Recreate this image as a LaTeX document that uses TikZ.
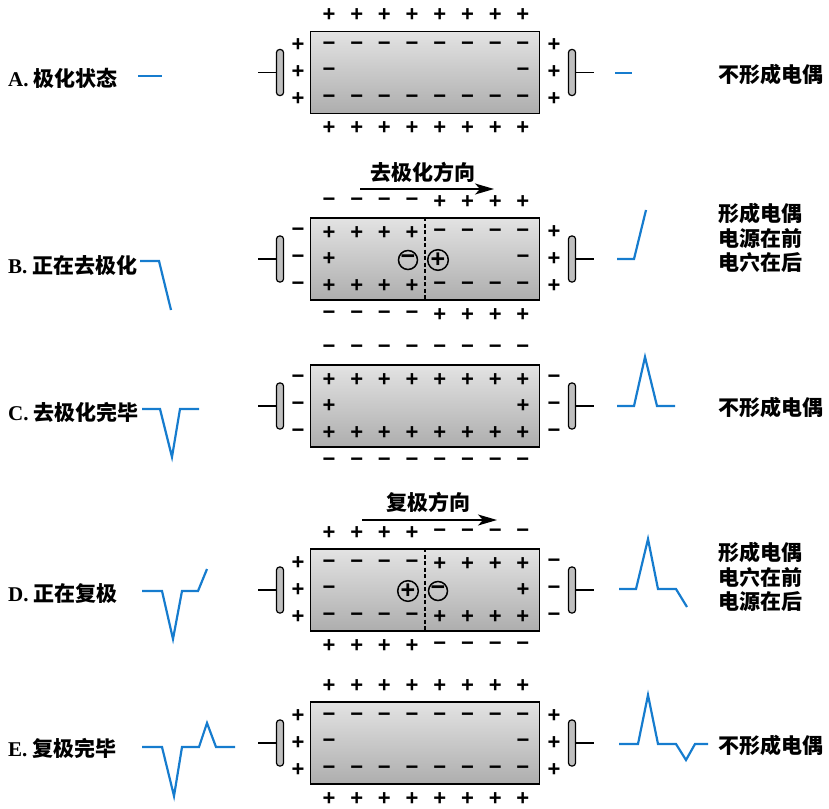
\documentclass[tikz,border=0pt]{standalone}
\usepackage{fontspec}
\setmainfont{Liberation Serif}
\newfontfamily\cjk{Noto Sans CJK SC}
\newfontfamily\signfont{Liberation Sans}
\usetikzlibrary{arrows.meta}

\definecolor{ecgblue}{RGB}{22,124,206}

\tikzset{
  fiber/.style={draw, line width=1.8pt, minimum width=229pt, minimum height=82pt, inner sep=0,
    top color=black!11, middle color=black!5, bottom color=black!32},
  sign/.style={font=\signfont\bfseries\fontsize{22}{22}\selectfont, inner sep=0},
  csign/.style={circle, draw, line width=1.5pt, minimum size=19pt, inner sep=0,
    font=\signfont\bfseries\fontsize{25}{25}\selectfont},
  electrode/.style={draw, line width=1.2pt, rounded corners=3pt, fill=black!25,
    minimum width=7pt, minimum height=46pt, inner sep=0},
  wire/.style={line width=1.6pt},
  trace/.style={ecgblue, line width=2.2pt, line join=miter},
  lbl/.style={font=\fontsize{21}{24.5}\selectfont\bfseries, inner sep=0},
}

% one fibre: name, centre y, outer row, inner row, middle left/right, left side, right side
\newcommand{\fiber}[8]{%
  \node[fiber] (#1) at (425,#2) {};
  \foreach \s [count=\i] in {#3}{
    \node[sign] (#1-t\i) at ({301.3+27.7*\i},#2-57) {\s};
    \node[sign] (#1-b\i) at ({301.3+27.7*\i},#2+56) {\s};
  }
  \foreach \s [count=\i] in {#4}{
    \node[sign] (#1-u\i) at ({301.3+27.7*\i},#2-26) {\s};
    \node[sign] (#1-d\i) at ({301.3+27.7*\i},#2+27) {\s};
  }
  \node[sign] (#1-ml) at (329,#2) {#5};
  \node[sign] (#1-mr) at (523,#2) {#6};
  \foreach \j [count=\k] in {-27,0,27}{
    \node[sign] (#1-l\k) at (298,#2+\j) {#7};
    \node[sign] (#1-r\k) at (554,#2+\j) {#8};
  }
  % electrodes
  \node[electrode] (#1-le) at (280,#2) {};
  \node[electrode] (#1-re) at (572,#2) {};
  \coordinate (#1-lw) at (258,#2);
  \coordinate (#1-rw) at (594,#2);
  \draw[wire] (#1-lw) -- (#1-le);
  \draw[wire] (#1-re) -- (#1-rw);
}

\begin{document}
\begin{tikzpicture}[x=1pt,y=-1pt]
\useasboundingbox (0,0) rectangle (829,808);

\fiber{a}{72.5}{+,+,+,+,+,+,+,+}{−,−,−,−,−,−,−,−}{−}{−}{+}{+}
\fiber{b}{259}{−,−,−,−,+,+,+,+}{+,+,+,+,−,−,−,−}{+}{−}{−}{+}
\fiber{c}{406}{−,−,−,−,−,−,−,−}{+,+,+,+,+,+,+,+}{+}{+}{−}{−}
\fiber{d}{590}{+,+,+,+,−,−,−,−}{−,−,−,−,+,+,+,+}{−}{+}{+}{−}
\fiber{e}{743}{+,+,+,+,+,+,+,+}{−,−,−,−,−,−,−,−}{−}{−}{+}{+}

% wave fronts
\draw[line width=1.4pt, dash pattern=on 4pt off 2.5pt] (b.north) -- (b.south);
\draw[line width=1.4pt, dash pattern=on 4pt off 2.5pt] (d.north) -- (d.south);
\node[csign] (b-neg) at (408,260) {−};
\node[csign] (b-pos) at (438,260) {+};
\node[csign] (d-pos) at (408,591) {+};
\node[csign] (d-neg) at (438,591) {−};

% direction arrows
\node[lbl] (b-dir) at (423,172) {\cjk 去极化方向};
\coordinate (b-from) at (360,189);
\coordinate (b-to) at (494,189);
\draw[wire, line width=1.9pt, -{Stealth[length=19pt,width=11pt,inset=5pt]}] (b-from) -- (b-to);
\node[lbl] (d-dir) at (428,502) {\cjk 复极方向};
\coordinate (d-from) at (362,520);
\coordinate (d-to) at (497,520);
\draw[wire, line width=1.9pt, -{Stealth[length=19pt,width=11pt,inset=5pt]}] (d-from) -- (d-to);

% stage names
\node[lbl, anchor=west] (la) at (8,78) {A. \cjk 极化状态};
\node[lbl, anchor=west] (lb) at (8,265) {B. \cjk 正在去极化};
\node[lbl, anchor=west] (lc) at (8,412) {C. \cjk 去极化完毕};
\node[lbl, anchor=west] (ld) at (8,594) {D. \cjk 正在复极};
\node[lbl, anchor=west] (le) at (8,748) {E. \cjk 复极完毕};

% dipole notes
\node[lbl, anchor=west] (ra) at (718,74) {\cjk 不形成电偶};
\node[lbl, align=center] (rb) at (760,238) {\cjk 形成电偶\\ \cjk 电源在前\\ \cjk 电穴在后};
\node[lbl, anchor=west] (rc) at (718,407) {\cjk 不形成电偶};
\node[lbl, align=center] (rd) at (760,577) {\cjk 形成电偶\\ \cjk 电穴在前\\ \cjk 电源在后};
\node[lbl, anchor=west] (re) at (718,745) {\cjk 不形成电偶};

% recorded waves, left
\draw[trace] (138,76) -- (162,76);
\draw[trace] (140,261) -- (159,261) -- (171,310);
\draw[trace] (142,409) -- (160,409) -- (172,457) -- (180,409) -- (199,409);
\draw[trace] (142,591) -- (162,591) -- (173,639) -- (182,591) -- (198,591) -- (207,569);
\draw[trace] (142,747) -- (162,747) -- (174,796) -- (182,747) -- (199,747) -- (207,723) -- (216,747) -- (235,747);
% recorded waves, right
\draw[trace] (615,73) -- (632,73);
\draw[trace] (617,259) -- (634,259) -- (646,210);
\draw[trace] (617,406) -- (634,406) -- (645,357) -- (657,406) -- (675,406);
\draw[trace] (619,589) -- (636,589) -- (648,539) -- (658,589) -- (676,589) -- (687,607);
\draw[trace] (619,744) -- (638,744) -- (648,695) -- (658,744) -- (676,744) -- (686,760) -- (695,744) -- (708,744);
\end{tikzpicture}
\end{document}
